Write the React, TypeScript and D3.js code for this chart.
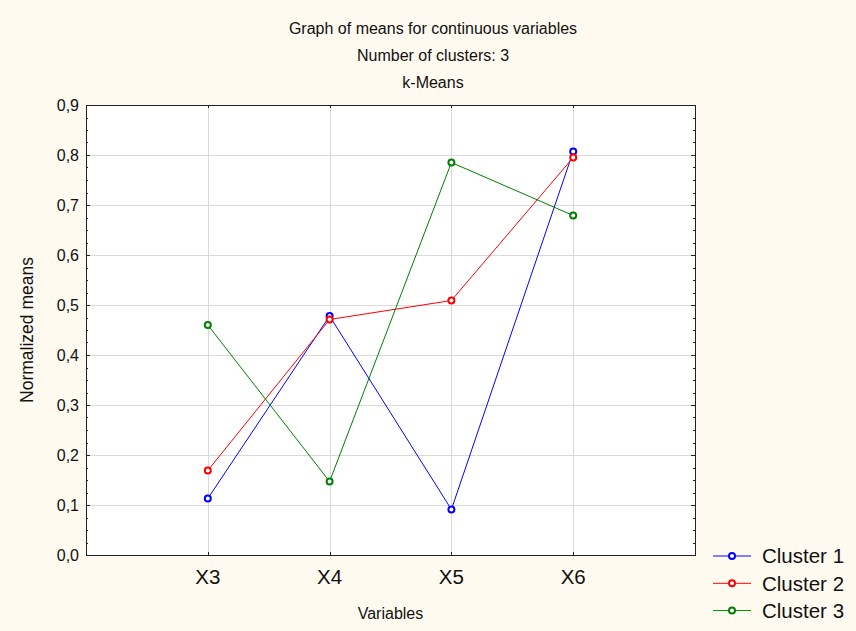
import { useEffect, useRef } from "react";
import * as d3 from "d3";

// chart data
const variables = ["X3", "X4", "X5", "X6"];
const cluster1 = [0.113, 0.478, 0.091, 0.807];
const cluster2 = [0.169, 0.471, 0.509, 0.795];
const cluster3 = [0.46, 0.147, 0.785, 0.679];
const seriesNames = ["Cluster 1", "Cluster 2", "Cluster 3"];
const seriesColors = ["#0000ff", "#ff0000", "#008000"];
const titleLines = [
  "Graph of means for continuous variables",
  "Number of clusters: 3",
  "k-Means",
];
const yTicks = [0, 0.1, 0.2, 0.3, 0.4, 0.5, 0.6, 0.7, 0.8, 0.9];

const W = 856;
const H = 631;
const FONT = "'Liberation Sans', Arial, sans-serif";

export default function App() {
  const ref = useRef<SVGSVGElement>(null);

  useEffect(() => {
    const svg = d3.select(ref.current);
    svg.selectAll("*").remove();

    const left = 86;
    const right = 695;
    const top = 105;
    const bottom = 555;

    const x = d3.scaleLinear().domain([0, variables.length + 1]).range([left, right]);
    const y = d3.scaleLinear().domain([0, 0.9]).range([bottom, top]);

    svg.append("rect").attr("width", W).attr("height", H).attr("fill", "#fffaf0");

    // titles
    svg
      .selectAll("text.title")
      .data(titleLines)
      .join("text")
      .attr("class", "title")
      .attr("x", 433)
      .attr("y", (_, i) => 34 + i * 27)
      .attr("text-anchor", "middle")
      .attr("font-family", FONT)
      .attr("font-size", 16)
      .attr("fill", "#111")
      .text((d) => d);

    // plot background
    svg
      .append("rect")
      .attr("x", left)
      .attr("y", top)
      .attr("width", right - left)
      .attr("height", bottom - top)
      .attr("fill", "#ffffff");

    // grid
    const grid = svg.append("g").attr("stroke", "#dadada").attr("stroke-width", 1);
    grid
      .selectAll("line.h")
      .data(yTicks.slice(1, -1))
      .join("line")
      .attr("x1", left)
      .attr("x2", right)
      .attr("y1", (d) => Math.round(y(d)) + 0.5)
      .attr("y2", (d) => Math.round(y(d)) + 0.5);
    grid
      .selectAll("line.v")
      .data(variables)
      .join("line")
      .attr("x1", (_, i) => Math.round(x(i + 1)) + 0.5)
      .attr("x2", (_, i) => Math.round(x(i + 1)) + 0.5)
      .attr("y1", top)
      .attr("y2", bottom);

    // ticks (inside)
    const minor = d3.range(0, 0.9001, 0.025);
    const ticks = svg.append("g").attr("stroke", "#222").attr("stroke-width", 1);
    minor.forEach((v, i) => {
      const yy = Math.round(y(v)) + 0.5;
      const len = i % 4 === 0 ? 4 : 2;
      ticks.append("line").attr("x1", left).attr("x2", left + len).attr("y1", yy).attr("y2", yy);
      ticks.append("line").attr("x1", right - len).attr("x2", right).attr("y1", yy).attr("y2", yy);
    });
    variables.forEach((_, i) => {
      const xx = Math.round(x(i + 1)) + 0.5;
      ticks.append("line").attr("x1", xx).attr("x2", xx).attr("y1", top).attr("y2", top + 3);
      ticks.append("line").attr("x1", xx).attr("x2", xx).attr("y1", bottom - 3).attr("y2", bottom);
    });

    // frame
    svg
      .append("rect")
      .attr("x", left + 0.5)
      .attr("y", top + 0.5)
      .attr("width", right - left)
      .attr("height", bottom - top)
      .attr("fill", "none")
      .attr("stroke", "#222")
      .attr("stroke-width", 1);

    // y tick labels
    svg
      .selectAll("text.ytick")
      .data(yTicks)
      .join("text")
      .attr("class", "ytick")
      .attr("x", left - 7)
      .attr("y", (d) => y(d))
      .attr("dy", "0.36em")
      .attr("text-anchor", "end")
      .attr("font-family", FONT)
      .attr("font-size", 16)
      .attr("fill", "#111")
      .text((d) => d3.format(".1f")(d).replace(".", ","));

    // x tick labels
    svg
      .selectAll("text.xtick")
      .data(variables)
      .join("text")
      .attr("class", "xtick")
      .attr("x", (_, i) => x(i + 1))
      .attr("y", 584)
      .attr("text-anchor", "middle")
      .attr("font-family", FONT)
      .attr("font-size", 20.5)
      .attr("fill", "#111")
      .text((d) => d);

    // axis titles
    svg
      .append("text")
      .attr("x", (left + right) / 2)
      .attr("y", 619)
      .attr("text-anchor", "middle")
      .attr("font-family", FONT)
      .attr("font-size", 16)
      .attr("fill", "#111")
      .text("Variables");
    svg
      .append("text")
      .attr("transform", `translate(33,${(top + bottom) / 2}) rotate(-90)`)
      .attr("text-anchor", "middle")
      .attr("font-family", FONT)
      .attr("font-size", 17.5)
      .attr("fill", "#111")
      .text("Normalized means");

    // series
    const allSeries = [cluster1, cluster2, cluster3];
    const line = d3
      .line<number>()
      .x((_, i) => x(i + 1))
      .y((d) => y(d));

    allSeries.forEach((vals, s) => {
      const g = svg.append("g");
      g.append("path")
        .datum(vals)
        .attr("d", line)
        .attr("fill", "none")
        .attr("stroke", seriesColors[s])
        .attr("stroke-width", 1);
      g.selectAll("circle")
        .data(vals)
        .join("circle")
        .attr("cx", (_, i) => x(i + 1))
        .attr("cy", (d) => y(d))
        .attr("r", 3)
        .attr("fill", "#fff")
        .attr("stroke", seriesColors[s])
        .attr("stroke-width", 2);
    });

    // legend
    const legend = svg
      .selectAll("g.legend")
      .data(seriesNames)
      .join("g")
      .attr("class", "legend")
      .attr("transform", (_, i) => `translate(713,${556 + i * 27.3})`);
    legend
      .append("line")
      .attr("x1", 0)
      .attr("x2", 38)
      .attr("stroke", (_, i) => seriesColors[i])
      .attr("stroke-width", 1);
    legend
      .append("circle")
      .attr("cx", 19)
      .attr("r", 3)
      .attr("fill", "#fff")
      .attr("stroke", (_, i) => seriesColors[i])
      .attr("stroke-width", 2);
    legend
      .append("text")
      .attr("x", 49)
      .attr("dy", "0.36em")
      .attr("font-family", FONT)
      .attr("font-size", 20.5)
      .attr("fill", "#111")
      .text((d) => d);
  }, []);

  return (
    <svg
      ref={ref}
      width={W}
      height={H}
      style={{ position: "absolute", left: 0, top: 0, display: "block" }}
    />
  );
}
